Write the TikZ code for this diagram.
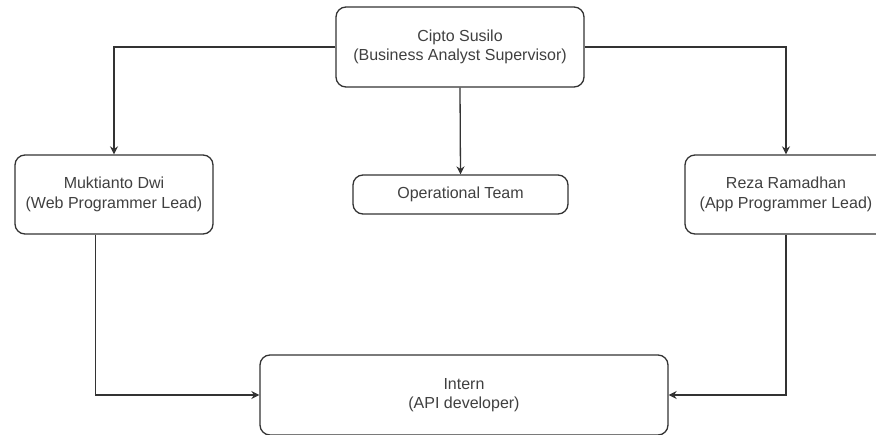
\documentclass[tikz,border=0pt]{standalone}
\usepackage{fontspec}
\setmainfont{Liberation Sans}
\usetikzlibrary{arrows.meta,calc}
\definecolor{linec}{HTML}{333333}
\definecolor{textc}{HTML}{404040}
\tikzset{
  box/.style={draw=linec, line width=1.3pt, rounded corners=10pt, fill=white,
    inner sep=0pt, align=center, text=textc, font=\fontsize{16}{19.5}\selectfont},
  conn/.style={draw=linec, line width=1.3pt, -{Stealth[length=8pt,width=8pt]}}
}
\begin{document}
\begin{tikzpicture}[x=1pt,y=-1pt]
\useasboundingbox (0,0) rectangle (876,434);
\clip (0,0) rectangle (876,434);
\fill[white] (0,0) rectangle (876,434);
\node[box, minimum width=248pt, minimum height=80pt] (top) at (460,47) {Cipto Susilo\\(Business Analyst Supervisor)};
\node[box, minimum width=198pt, minimum height=79pt] (mukt) at (114,194.5) {Muktianto Dwi\\(Web Programmer Lead)};
\node[box, minimum width=215pt, minimum height=39pt] (ops) at (460.5,194.5) {Operational Team};
\node[box, minimum width=202pt, minimum height=79pt] (reza) at (786,194.5) {Reza Ramadhan\\(App Programmer Lead)};
\node[box, minimum width=408pt, minimum height=80pt] (intern) at (464,395) {Intern\\(API developer)};
\draw[conn] (top.west) -| (mukt.north);
\draw[conn] (top.east) -| (reza.north);
\draw[conn] (top.south) -- (ops.north);
\coordinate (ml) at ($(mukt.south west)+(81,0)$);
\draw[conn] (ml) |- (intern.west);
\draw[conn] (reza.south) |- (intern.east);
\end{tikzpicture}
\end{document}
